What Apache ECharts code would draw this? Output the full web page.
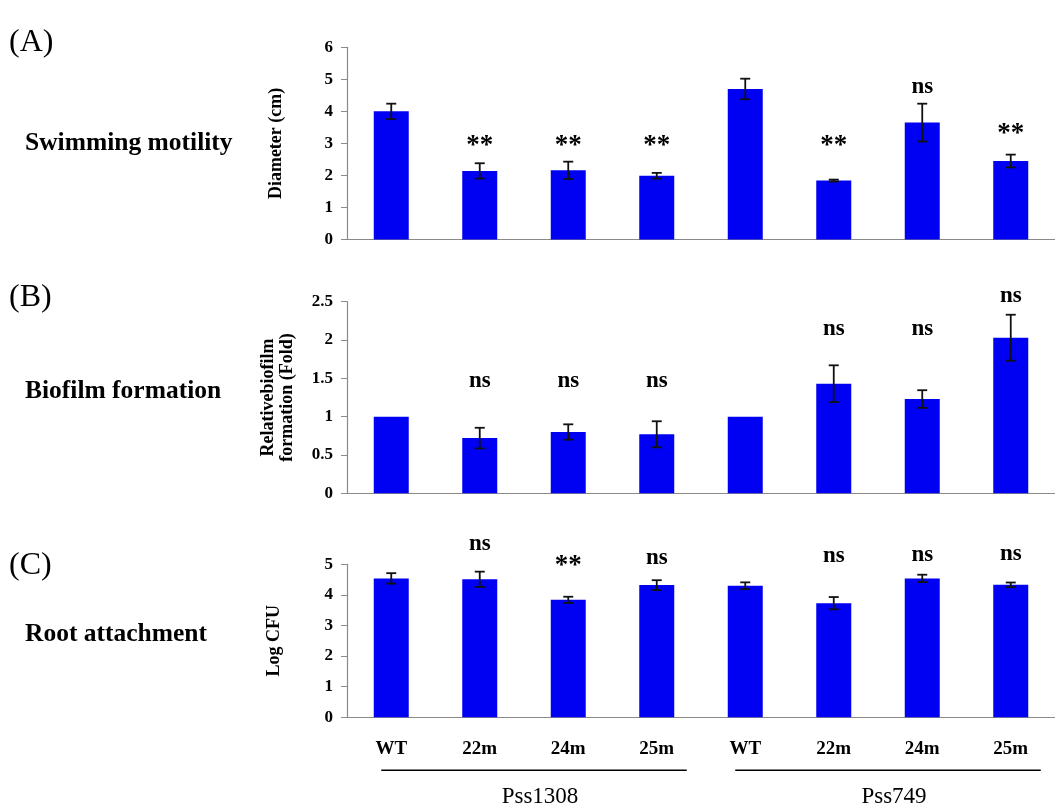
<!DOCTYPE html>
<html>
<head>
<meta charset="utf-8">
<script src="https://cdn.jsdelivr.net/npm/echarts@6/dist/echarts.min.js"></script>
<style>
  html, body { margin: 0; padding: 0; background: #ffffff; }
  #chart { width: 1055px; height: 808px; }
</style>
</head>
<body>
<div id="chart"></div>
<script>
// Strains on the shared x axis: four per genetic background
const strains = ['WT', '22m', '24m', '25m', 'WT', '22m', '24m', '25m'];
const backgrounds = ['Pss1308', 'Pss749'];
const backgroundRanges = [[0, 3], [4, 7]];

// (A) swimming motility, colony diameter in cm
const motility    = [4.00, 2.14, 2.16, 1.99, 4.70, 1.84, 3.65, 2.45];
const motilityErr = [0.24, 0.24, 0.27, 0.09, 0.32, 0.03, 0.59, 0.20];
const motilitySig  = ['', '**', '**', '**', '', '**', 'ns', '**'];
const motilitySigY = [null, 3.02, 3.02, 3.02, null, 3.02, 4.77, 3.39];

// (B) biofilm formation relative to the wild type
const biofilm    = [1.00, 0.72, 0.80, 0.77, 1.00, 1.43, 1.23, 2.03];
const biofilmErr = [0, 0.135, 0.10, 0.17, 0, 0.24, 0.115, 0.30];
const biofilmSig  = ['', 'ns', 'ns', 'ns', '', 'ns', 'ns', 'ns'];
const biofilmSigY = [null, 1.46, 1.46, 1.46, null, 2.14, 2.14, 2.57];

// (C) root attachment, log CFU
const attachment    = [4.54, 4.51, 3.84, 4.32, 4.30, 3.73, 4.54, 4.33];
const attachmentErr = [0.17, 0.25, 0.10, 0.16, 0.11, 0.20, 0.12, 0.075];
const attachmentSig  = ['', 'ns', '**', 'ns', '', 'ns', 'ns', 'ns'];
const attachmentSigY = [null, 5.66, 5.04, 5.21, null, 5.27, 5.30, 5.34];

// Y axis scales and labels
const panelLetters = ['(A)', '(B)', '(C)'];
const panelTitles  = ['Swimming motility', 'Biofilm formation', 'Root attachment'];
const yNames       = ['Diameter (cm)', 'Relativebiofilm\nformation (Fold)', 'Log CFU'];
const yMax         = [6, 2.5, 5];
const yInterval    = [1, 0.5, 1];

const panelData = [
  { values: motility,   errors: motilityErr,   sig: motilitySig,   sigY: motilitySigY },
  { values: biofilm,    errors: biofilmErr,    sig: biofilmSig,    sigY: biofilmSigY },
  { values: attachment, errors: attachmentErr, sig: attachmentSig, sigY: attachmentSigY }
];

// ---- layout & style ----
const SERIF = '"Liberation Serif", "Times New Roman", serif';
const BAR_COLOR = '#0000f2';
const AXIS_COLOR = '#8a8a8a';
const gridLeft = 347;
const gridWidth = 712;
const gridTops = [47.3, 301.7, 564.3];
const gridHeights = [192.2, 191.6, 153];
const letterY = [43, 298, 566];
const titleY = [143, 391, 634];
const nameGaps = [61, 50, 63];

const chart = echarts.init(document.getElementById('chart'), null, { renderer: 'canvas' });

function renderErrorBar(params, api) {
  const x = api.value(0);
  const v = api.value(1);
  const e = api.value(2);
  if (!e) return null;
  const hi = api.coord([x, v + e]);
  const lo = api.coord([x, v - e]);
  const cap = 5;
  const st = { stroke: '#111111', lineWidth: 1.8 };
  return {
    type: 'group',
    children: [
      { type: 'line', shape: { x1: hi[0], y1: hi[1], x2: lo[0], y2: lo[1] }, style: st },
      { type: 'line', shape: { x1: hi[0] - cap, y1: hi[1], x2: hi[0] + cap, y2: hi[1] }, style: st },
      { type: 'line', shape: { x1: lo[0] - cap, y1: lo[1], x2: lo[0] + cap, y2: lo[1] }, style: st }
    ]
  };
}

const grids = [], xAxes = [], yAxes = [], series = [];

panelData.forEach((p, k) => {
  grids.push({ left: gridLeft, top: gridTops[k], width: gridWidth, height: gridHeights[k], containLabel: false });

  xAxes.push({
    type: 'category',
    gridIndex: k,
    data: strains,
    axisLine: { show: true, lineStyle: { color: AXIS_COLOR, width: 1.2 } },
    axisTick: { show: false },
    axisLabel: {
      show: k === 2,
      margin: 22,
      color: '#000',
      fontFamily: SERIF,
      fontWeight: 'bold',
      fontSize: 19
    },
    splitLine: { show: false }
  });

  yAxes.push({
    type: 'value',
    gridIndex: k,
    min: 0,
    max: yMax[k],
    interval: yInterval[k],
    name: yNames[k],
    nameLocation: 'middle',
    nameGap: nameGaps[k],
    nameRotate: 90,
    nameTextStyle: {
      color: '#000',
      fontFamily: SERIF,
      fontWeight: 'bold',
      fontSize: 18,
      lineHeight: 19
    },
    axisLine: { show: true, lineStyle: { color: AXIS_COLOR, width: 1.2 } },
    axisTick: { show: true, length: 6, lineStyle: { color: AXIS_COLOR } },
    axisLabel: {
      margin: 14,
      color: '#000',
      fontFamily: SERIF,
      fontWeight: 'bold',
      fontSize: 17
    },
    splitLine: { show: false }
  });

  series.push({
    type: 'bar',
    xAxisIndex: k,
    yAxisIndex: k,
    data: p.values,
    barWidth: 35,
    itemStyle: { color: BAR_COLOR },
    z: 2
  });

  series.push({
    type: 'custom',
    xAxisIndex: k,
    yAxisIndex: k,
    data: p.values.map((v, i) => [i, v, p.errors[i]]),
    renderItem: renderErrorBar,
    z: 3,
    silent: true
  });

  const pts = [];
  const texts = [];
  p.sig.forEach((s, i) => {
    if (s && p.sigY[i] != null) { pts.push([i, p.sigY[i]]); texts.push(s); }
  });
  series.push({
    type: 'custom',
    xAxisIndex: k,
    yAxisIndex: k,
    data: pts,
    clip: false,
    z: 4,
    silent: true,
    renderItem: function (params, api) {
      const c = api.coord([api.value(0), api.value(1)]);
      const t = texts[params.dataIndex];
      const isStar = t === '**';
      return {
        type: 'text',
        x: c[0],
        y: c[1] + (isStar ? 3 : 0),
        style: {
          text: t,
          fill: '#000',
          font: 'bold ' + (isStar ? 27 : 23) + 'px ' + SERIF,
          align: 'center',
          verticalAlign: 'middle'
        }
      };
    }
  });
});

chart.setOption({
  backgroundColor: '#ffffff',
  animation: false,
  grid: grids,
  xAxis: xAxes,
  yAxis: yAxes,
  series: series
});

// Panel letters, row titles and the strain-background brackets under the bottom axis
const graphics = [];
panelLetters.forEach((t, k) => {
  graphics.push({
    type: 'text', left: 9, top: letterY[k] - 16,
    style: { text: t, fill: '#000', font: '32px ' + SERIF }
  });
  graphics.push({
    type: 'text', left: 25, top: titleY[k] - 13,
    style: { text: panelTitles[k], fill: '#000', font: 'bold 25.5px ' + SERIF }
  });
});

const axisBottom = gridTops[2] + gridHeights[2];
backgrounds.forEach((name, g) => {
  const a = chart.convertToPixel({ xAxisIndex: 2 }, backgroundRanges[g][0]);
  const b = chart.convertToPixel({ xAxisIndex: 2 }, backgroundRanges[g][1]);
  const lineY = axisBottom + 53;
  graphics.push({
    type: 'line',
    shape: { x1: a - 10, y1: lineY, x2: b + 30, y2: lineY },
    style: { stroke: '#000', lineWidth: 1.6 }
  });
  graphics.push({
    type: 'text',
    x: (a + b) / 2 + 16,
    y: axisBottom + 80,
    style: { text: name, fill: '#000', font: '23px ' + SERIF, align: 'center', verticalAlign: 'middle' }
  });
});

chart.setOption({ graphic: graphics });
</script>
</body>
</html>
